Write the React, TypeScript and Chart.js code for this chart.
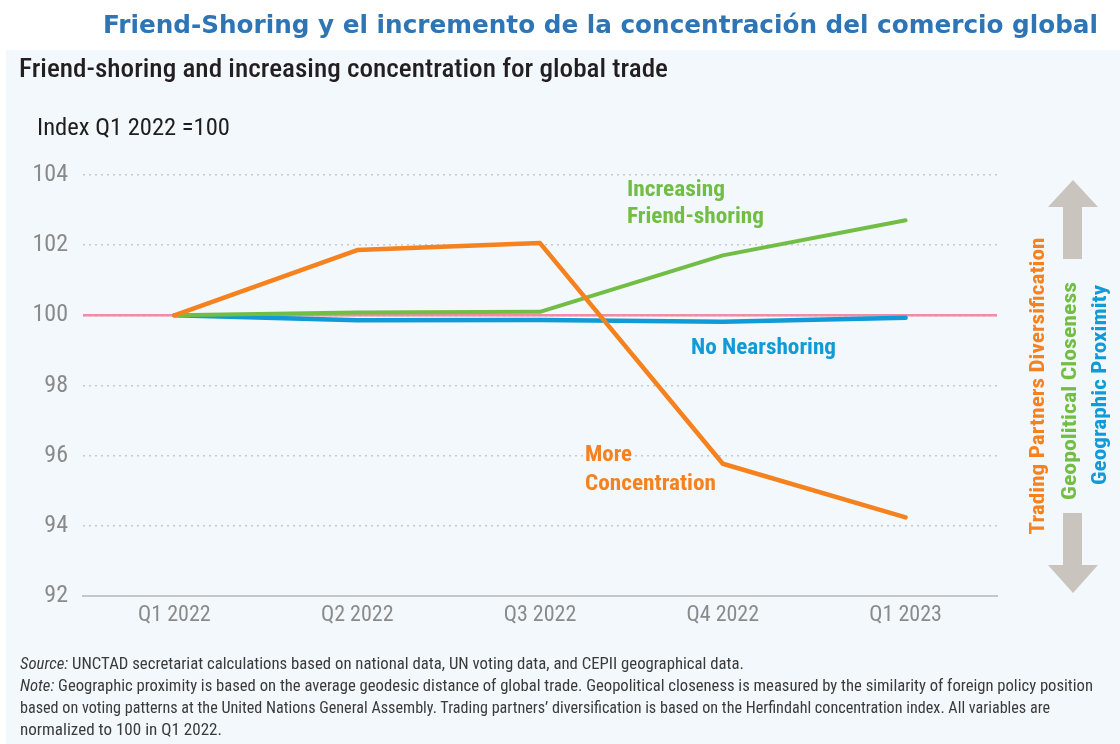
import React, { useEffect, useRef } from 'react';
import { Chart, registerables } from 'chart.js';

Chart.register(...registerables);

// ---- Data ----
const categories = ['Q1 2022', 'Q2 2022', 'Q3 2022', 'Q4 2022', 'Q1 2023'];
const moreConcentration = [100, 101.86, 102.06, 95.77, 94.24];
const increasingFriendShoring = [100, 100.08, 100.1, 101.71, 102.71];
const noNearshoring = [100, 99.86, 99.87, 99.82, 99.93];
const baselineValue = 100;
const yMin = 92;
const yMax = 104;
const yStep = 2;

const NARROW = '"Liberation Sans Narrow", "Arial Narrow", "Roboto Condensed", Roboto, sans-serif';

const ORANGE = '#f5821f';
const GREEN = '#72bd44';
const BLUE = '#0f9ad8';
const PINK = '#f28ba6';

const baselinePlugin = {
  id: 'baselineLine',
  beforeDatasetsDraw(chart: any) {
    const { ctx, chartArea, scales } = chart;
    const y = scales.y.getPixelForValue(baselineValue);
    ctx.save();
    ctx.strokeStyle = PINK;
    ctx.lineWidth = 2.5;
    ctx.beginPath();
    ctx.moveTo(chartArea.left, y);
    ctx.lineTo(chartArea.right, y);
    ctx.stroke();
    ctx.restore();
  },
};

export default function App() {
  const canvasRef = useRef<HTMLCanvasElement | null>(null);

  useEffect(() => {
    document.body.style.margin = '0';
    const canvas = canvasRef.current;
    if (!canvas) return;
    const lineStyle = (color: string, width: number) => ({
      borderColor: color,
      backgroundColor: color,
      borderWidth: width,
      pointRadius: 0,
      tension: 0,
      fill: false,
      borderCapStyle: 'round' as const,
      borderJoinStyle: 'round' as const,
    });
    const chart = new Chart(canvas, {
      type: 'line',
      data: {
        labels: categories,
        datasets: [
          { label: 'More Concentration', data: moreConcentration, ...lineStyle(ORANGE, 4.5) },
          { label: 'Increasing Friend-shoring', data: increasingFriendShoring, ...lineStyle(GREEN, 4) },
          { label: 'No Nearshoring', data: noNearshoring, ...lineStyle(BLUE, 4.5) },
        ],
      },
      options: {
        responsive: false,
        animation: false,
        layout: { padding: { left: 0, top: 175, right: 123, bottom: 108 } },
        plugins: {
          legend: { display: false },
          tooltip: { enabled: false },
        },
        scales: {
          x: {
            type: 'category',
            offset: true,
            grid: { display: false, drawTicks: false },
            border: { display: true, color: '#c6c6c6', width: 2 },
            ticks: {
              color: '#8a8a8a',
              font: { family: NARROW, size: 22 },
              padding: 6,
              maxRotation: 0,
            },
            afterFit: (s: any) => {
              s.height = 40;
            },
          },
          y: {
            min: yMin,
            max: yMax,
            ticks: {
              stepSize: yStep,
              color: '#8a8a8a',
              font: { family: NARROW, size: 24 },
              padding: 15,
            },
            grid: { color: '#c9c9c9', lineWidth: 1.5, drawTicks: false },
            border: { display: false, dash: [2, 4] },
            afterFit: (s: any) => {
              s.width = 83;
            },
          },
        },
      },
      plugins: [baselinePlugin],
    });
    return () => chart.destroy();
  }, []);

  const rot = (x: number, y: number) => `translate(${x},${y}) rotate(-90)`;

  return (
    <div style={{ position: 'relative', width: 1120, height: 744, overflow: 'hidden', background: '#ffffff' }}>
      <div style={{ position: 'absolute', left: 6, top: 50, width: 1114, height: 694, background: '#f3f8fc' }} />
      <canvas ref={canvasRef} width={1120} height={744} style={{ position: 'absolute', left: 0, top: 0 }} />
      <svg
        width={1120}
        height={744}
        style={{ position: 'absolute', left: 0, top: 0, pointerEvents: 'none' }}
      >
        <text x={103} y={33} fill="#2e75b6" fontFamily='"DejaVu Sans", Verdana, sans-serif' fontWeight="bold" fontSize={25} textLength={995} lengthAdjust="spacingAndGlyphs">
          Friend-Shoring y el incremento de la concentración del comercio global
        </text>
        <text x={19} y={77} fill="#231f20" fontFamily={NARROW} fontSize={25} fontWeight={500} textLength={649} lengthAdjust="spacingAndGlyphs">
          Friend-shoring and increasing concentration for global trade
        </text>
        <text x={37} y={135} fill="#1e1e1e" fontFamily={NARROW} fontSize={23} textLength={193} lengthAdjust="spacingAndGlyphs">
          Index Q1 2022 =100
        </text>

        <g fontFamily={NARROW} fontWeight="bold" fontSize={22}>
          <text x={627} y={196} fill={GREEN} textLength={98} lengthAdjust="spacingAndGlyphs">Increasing</text>
          <text x={627} y={223} fill={GREEN} textLength={137} lengthAdjust="spacingAndGlyphs">Friend-shoring</text>
          <text x={691} y={354} fill={BLUE} textLength={145} lengthAdjust="spacingAndGlyphs">No Nearshoring</text>
          <text x={585} y={461} fill={ORANGE} textLength={47} lengthAdjust="spacingAndGlyphs">More</text>
          <text x={585} y={490} fill={ORANGE} textLength={131} lengthAdjust="spacingAndGlyphs">Concentration</text>
        </g>

        <polygon points="1073,180 1098,207 1082,207 1082,259 1063,259 1063,207 1048,207" fill="#c9c4be" />
        <polygon points="1063,513 1082,513 1082,565 1098,565 1073,593 1048,565 1063,565" fill="#c9c4be" />

        <g fontFamily={NARROW} fontWeight="bold" fontSize={21} textAnchor="middle">
          <text transform={rot(1044, 386)} fill={ORANGE} textLength={297} lengthAdjust="spacingAndGlyphs">Trading Partners Diversification</text>
          <text transform={rot(1076, 391)} fill={GREEN} textLength={218} lengthAdjust="spacingAndGlyphs">Geopolitical Closeness</text>
          <text transform={rot(1106, 385)} fill={BLUE} textLength={200} lengthAdjust="spacingAndGlyphs">Geographic Proximity</text>
        </g>

        <g fontFamily={NARROW} fontSize={16.5} fill="#3a3a3a">
          <text x={20} y={669} textLength={724} lengthAdjust="spacingAndGlyphs">
            <tspan fontStyle="italic">Source:</tspan> UNCTAD secretariat calculations based on national data, UN voting data, and CEPII geographical data.
          </text>
          <text x={20} y={691} textLength={1073} lengthAdjust="spacingAndGlyphs">
            <tspan fontStyle="italic">Note:</tspan> Geographic proximity is based on the average geodesic distance of global trade. Geopolitical closeness is measured by the similarity of foreign policy position
          </text>
          <text x={20} y={713} textLength={1030} lengthAdjust="spacingAndGlyphs">
            based on voting patterns at the United Nations General Assembly. Trading partners’ diversification is based on the Herfindahl concentration index. All variables are
          </text>
          <text x={20} y={735} textLength={202} lengthAdjust="spacingAndGlyphs">
            normalized to 100 in Q1 2022.
          </text>
        </g>
      </svg>
    </div>
  );
}
